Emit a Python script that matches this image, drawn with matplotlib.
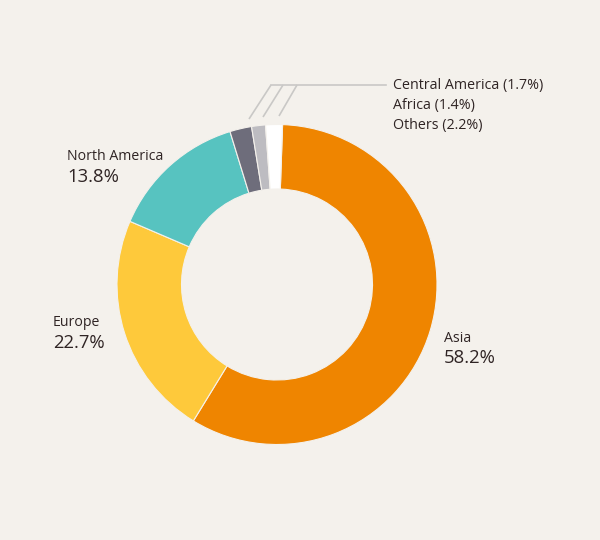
import matplotlib
matplotlib.use("Agg")
from matplotlib import pyplot as plt

# data (share of total, %)
regions = ["Asia", "Europe", "North America", "Others", "Africa", "Central America"]
shares = [58.2, 22.7, 13.8, 2.2, 1.4, 1.7]
colors = ["#ef8500", "#fec93b", "#57c3c0", "#6e6d7b", "#bdbcc1", "#ffffff"]

bg = "#f4f1ec"
txt = "#2f2424"

plt.rcParams["font.family"] = ["Open Sans", "DejaVu Sans"]

fig = plt.figure(figsize=(6, 5.4), dpi=100, facecolor=bg)
ax = fig.add_axes([0, 0, 1, 1])
ax.set_facecolor(bg)

# donut, clockwise from just right of 12 o'clock
ax.pie(shares, colors=colors, startangle=88, counterclock=False,
       center=(277, 255.5), radius=160,
       wedgeprops=dict(width=64.5, edgecolor=bg, linewidth=0.8))

ax.set_xlim(0, 600)
ax.set_ylim(0, 540)
ax.set_aspect("equal")
ax.axis("off")

# big labels: (name, value, x, y of name)
big_labels = [
    ("North America", "13.8%", 67, 383),
    ("Europe", "22.7%", 53, 217),
    ("Asia", "58.2%", 444, 202),
]
for name, val, x, y in big_labels:
    ax.text(x, y, name, fontsize=10.2, color=txt, va="center", ha="left")
    ax.text(x, y - 20, val, fontsize=13.3, color=txt, va="center", ha="left",
            fontweight="medium")

# small slices, listed at the top right
small = [("Central America", 1.7), ("Africa", 1.4), ("Others", 2.2)]
for i, (name, val) in enumerate(small):
    ax.text(393, 455 - i * 20, f"{name} ({val}%)", fontsize=10.3, color=txt,
            va="center", ha="left")

# leader lines
lc = "#c9c8c6"
ax.plot([271, 386], [455, 455], color=lc, lw=1.2)
for x0, x1, y1 in [(271, 249, 421), (283, 263, 423), (297, 279, 424)]:
    ax.plot([x0, x1], [455, y1], color=lc, lw=1.2, solid_capstyle="butt")

fig.savefig("out.png", dpi=100, facecolor=bg)
